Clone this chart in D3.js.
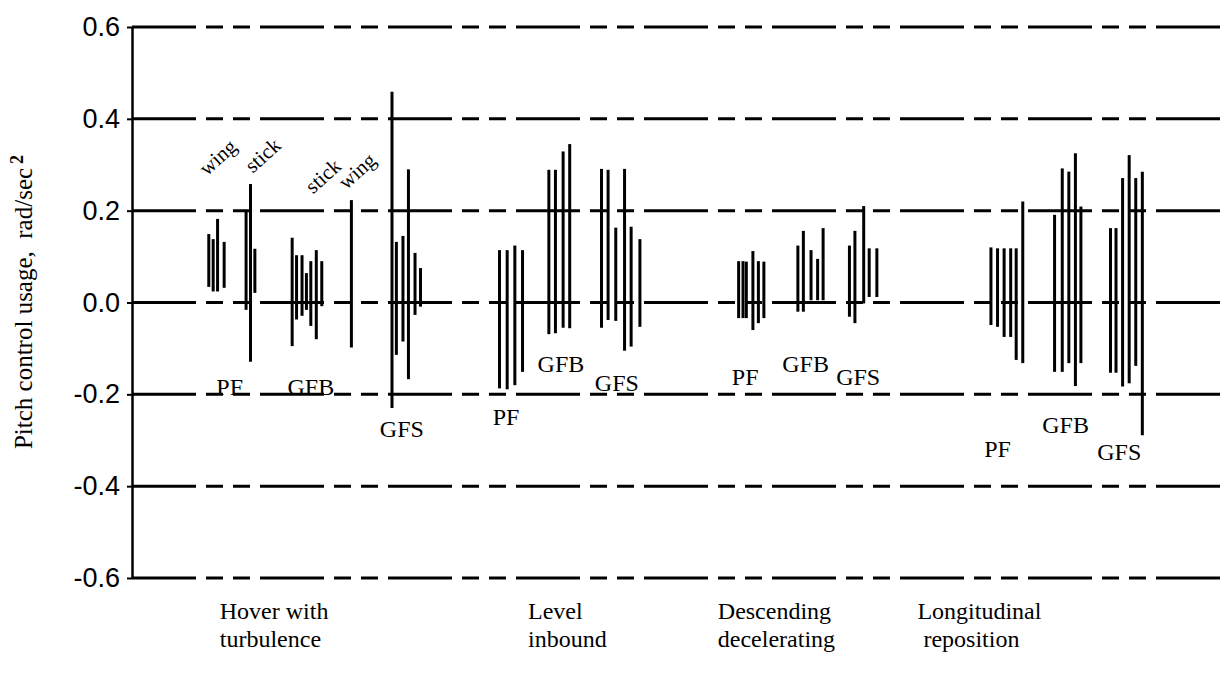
<!DOCTYPE html>
<html>
<head>
<meta charset="utf-8">
<script src="https://cdn.jsdelivr.net/npm/d3@7"></script>
<style>
  body { margin: 0; background: #fff; }
  svg { display: block; }
</style>
</head>
<body>
<script>
// y axis
const yTicks = [-0.6, -0.4, -0.2, 0.0, 0.2, 0.4, 0.6];
const yTickLabels = ["-0.6", "-0.4", "-0.2", "0.0", "0.2", "0.4", "0.6"];

// tasks along the bottom
const tasks = ["Hover with turbulence", "Level inbound", "Descending decelerating", "Longitudinal reposition"];
const taskLines = [["Hover with", "turbulence"], ["Level", "inbound"], ["Descending", "decelerating"], ["Longitudinal", " reposition"]];
const taskSlot = [8.0, 36.1, 53.4, 71.6];

// each bar: [slot, low, high]  (slot = position along the unlabelled x axis, 0..100)
const hoverPF = [
  [7.0, 0.034, 0.149], [7.4, 0.024, 0.138], [7.8, 0.024, 0.182], [8.4, 0.032, 0.132],   // wing
  [10.4, -0.016, 0.198], [10.8, -0.129, 0.258], [11.2, 0.021, 0.117]                      // stick
];
const hoverGFB = [
  [14.6, -0.095, 0.141], [15.0, -0.037, 0.103], [15.5, -0.029, 0.103], [15.9, -0.016, 0.064],
  [16.3, -0.051, 0.090], [16.8, -0.080, 0.114], [17.3, -0.008, 0.090],                    // stick
  [20.0, -0.098, 0.223]                                                                     // wing
];
const hoverGFS = [
  [23.7, -0.230, 0.459], [24.1, -0.114, 0.132], [24.7, -0.085, 0.145],
  [25.2, -0.167, 0.290], [25.8, -0.027, 0.108], [26.3, -0.009, 0.075]
];
const levelPF = [[33.5, -0.187, 0.114], [34.2, -0.189, 0.114], [34.9, -0.180, 0.124], [35.6, -0.151, 0.114]];
const levelGFB = [[38.0, -0.069, 0.289], [38.6, -0.067, 0.289], [39.3, -0.055, 0.329], [39.9, -0.056, 0.345]];
const levelGFS = [
  [42.8, -0.055, 0.291], [43.4, -0.038, 0.289], [44.1, -0.040, 0.163],
  [44.9, -0.105, 0.291], [45.5, -0.096, 0.165], [46.3, -0.053, 0.138]
];
const descPF = [
  [55.3, -0.034, 0.090], [55.7, -0.034, 0.090], [56.0, -0.034, 0.089],
  [56.6, -0.060, 0.112], [57.1, -0.045, 0.090], [57.6, -0.034, 0.089]
];
const descGFB = [[60.7, -0.020, 0.124], [61.2, -0.020, 0.156], [61.9, 0.005, 0.114], [62.5, 0.005, 0.095], [63.0, 0.005, 0.162]];
const descGFS = [[65.4, -0.031, 0.124], [65.9, -0.045, 0.156], [66.7, -0.002, 0.210], [67.2, 0.012, 0.118], [67.9, 0.012, 0.118]];
const reposPF = [
  [78.3, -0.049, 0.120], [78.9, -0.053, 0.118], [79.5, -0.075, 0.118],
  [80.1, -0.075, 0.118], [80.6, -0.125, 0.118], [81.2, -0.132, 0.220]
];
const reposGFB = [[84.1, -0.151, 0.191], [84.8, -0.151, 0.292], [85.4, -0.132, 0.285], [86.0, -0.182, 0.325], [86.5, -0.132, 0.209]];
const reposGFS = [
  [89.2, -0.153, 0.162], [89.7, -0.153, 0.162], [90.3, -0.183, 0.271],
  [90.9, -0.176, 0.321], [91.5, -0.138, 0.271], [92.1, -0.289, 0.285]
];

// pilot labels: [text, slot, value]
const pilotLabels = [
  ["PF", 8.9, -0.201], ["GFB", 16.3, -0.201], ["GFS", 24.6, -0.293],
  ["PF", 34.1, -0.267], ["GFB", 39.1, -0.151], ["GFS", 44.2, -0.193],
  ["PF", 55.9, -0.180], ["GFB", 61.4, -0.151], ["GFS", 66.2, -0.180],
  ["PF", 78.9, -0.337], ["GFB", 85.1, -0.284], ["GFS", 90.0, -0.343]
];
// inceptor notes over the hover bars: [text, slot, value]
const inceptorLabels = [["wing", 7.8, 0.317], ["stick", 11.9, 0.321], ["stick", 17.4, 0.276], ["wing", 20.5, 0.287]];

const bars = [].concat(hoverPF, hoverGFB, hoverGFS, levelPF, levelGFB, levelGFS,
  descPF, descGFB, descGFS, reposPF, reposGFB, reposGFS);

const W = 1229, H = 677;
const svg = d3.select("body").append("svg").attr("width", W).attr("height", H);
svg.append("rect").attr("width", W).attr("height", H).attr("fill", "#fff");

const x = d3.scaleLinear().domain([0, 100]).range([132, 1229]);
const y = d3.scaleLinear().domain([-0.6, 0.6]).range([578, 27]);

// dashed grid lines
svg.append("g")
  .selectAll("line")
  .data(yTicks)
  .join("line")
  .attr("x1", x(0))
  .attr("x2", x(100))
  .attr("y1", (d) => y(d))
  .attr("y2", (d) => y(d))
  .attr("stroke", "#000")
  .attr("stroke-width", 3)
  .attr("stroke-dasharray", "64,10,17,10,17,10");

// y axis
const yAxis = svg.append("g")
  .attr("transform", `translate(${x(0)},0)`)
  .call(d3.axisLeft(y).tickValues(yTicks).tickFormat((d, i) => yTickLabels[i]).tickSize(5).tickSizeOuter(0));
yAxis.select(".domain").attr("stroke-width", 2.5);
yAxis.selectAll(".tick line").attr("stroke-width", 2);
yAxis.selectAll(".tick text")
  .attr("x", -12)
  .attr("font-family", "Liberation Sans, Arial, sans-serif")
  .attr("font-size", 27)
  .attr("fill", "#000");

// range bars
svg.append("g")
  .selectAll("line")
  .data(bars)
  .join("line")
  .attr("x1", (d) => x(d[0]))
  .attr("x2", (d) => x(d[0]))
  .attr("y1", (d) => y(d[1]))
  .attr("y2", (d) => y(d[2]))
  .attr("stroke", "#000")
  .attr("stroke-width", 3);

const serif = "Liberation Serif, Times New Roman, serif";

// pilot labels
svg.append("g")
  .selectAll("text")
  .data(pilotLabels)
  .join("text")
  .attr("x", (d) => x(d[1]))
  .attr("y", (d) => y(d[2]))
  .attr("text-anchor", "middle")
  .attr("font-family", serif)
  .attr("font-size", 24)
  .text((d) => d[0]);

// wing / stick notes
svg.append("g")
  .selectAll("text")
  .data(inceptorLabels)
  .join("text")
  .attr("transform", (d) => `translate(${x(d[1])},${y(d[2])}) rotate(-42)`)
  .attr("text-anchor", "middle")
  .attr("dy", "0.35em")
  .attr("font-family", serif)
  .attr("font-size", 21)
  .text((d) => d[0]);

// task names
const taskText = svg.append("g")
  .selectAll("text")
  .data(taskLines)
  .join("text")
  .attr("x", (d, i) => x(taskSlot[i]))
  .attr("y", 619)
  .attr("font-family", serif)
  .attr("font-size", 24)
  .style("white-space", "pre");
taskText.selectAll("tspan")
  .data((d) => d)
  .join("tspan")
  .attr("x", function () { return this.parentNode.getAttribute("x"); })
  .attr("dy", (d, i) => (i === 0 ? 0 : 28))
  .text((d) => d);

// y axis title
const title = svg.append("text")
  .attr("transform", "translate(32,302) rotate(-90)")
  .attr("text-anchor", "middle")
  .attr("font-family", serif)
  .attr("font-size", 25)
  .style("white-space", "pre");
title.append("tspan").text("Pitch control usage,  rad/sec");
title.append("tspan").attr("dx", 4).attr("dy", -9).attr("font-size", 18).attr("font-weight", "bold").text("2");
</script>
</body>
</html>
